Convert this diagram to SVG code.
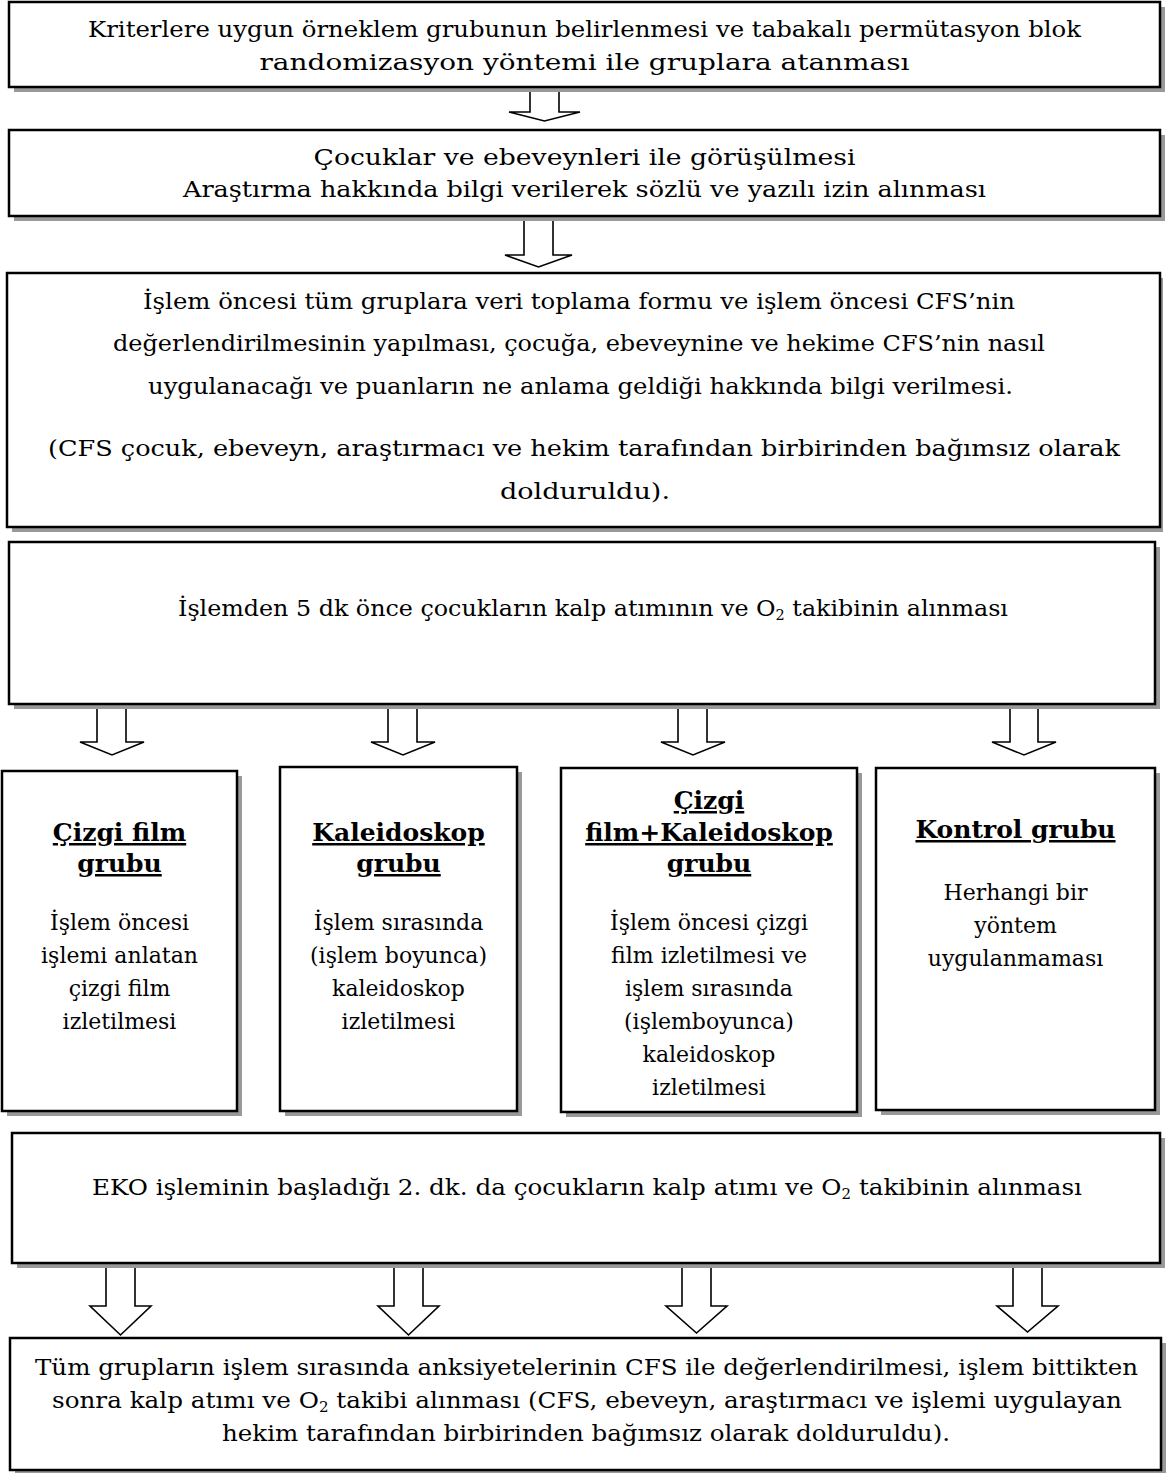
<svg xmlns="http://www.w3.org/2000/svg" width="1166" height="1473" viewBox="0 0 1166 1473">
<style>
.sh{fill:#999999;stroke:none}
.bx{fill:#ffffff;stroke:#000000;stroke-width:2.5}
.ar{fill:#ffffff;stroke:#000000;stroke-width:1.6;stroke-linejoin:miter}
text{font-family:"DejaVu Serif","Liberation Serif",serif;font-size:23px;fill:#000000;text-anchor:middle}
.c{font-size:22px}
.b{font-size:25px;font-weight:bold;text-decoration:underline}
.sub{font-size:14px}
</style>
<rect width="1166" height="1473" fill="#ffffff"/>
<g id="connectors">
<path class="ar" d="M530,89 V112 H509 L544.5,121 L580,112 H559 V89 Z"/>
<path class="ar" d="M524,219 V255 H505 L538.5,267 L572,255 H553 V219 Z"/>
<path class="ar" d="M97,707 V742 H80 L112,755 L144,742 H126 V707 Z"/>
<path class="ar" d="M388,707 V742 H371 L403,755 L435,742 H417 V707 Z"/>
<path class="ar" d="M678,707 V742 H661 L693,755 L725,742 H707 V707 Z"/>
<path class="ar" d="M1010,707 V742 H992 L1024,755 L1056,742 H1038 V707 Z"/>
<path class="ar" d="M106,1265 V1306 H90 L120.5,1335 L151,1306 H135 V1265 Z"/>
<path class="ar" d="M394,1265 V1306 H378 L408.5,1335 L439,1306 H423 V1265 Z"/>
<path class="ar" d="M682,1265 V1306 H666 L696.5,1333 L727,1306 H711 V1265 Z"/>
<path class="ar" d="M1013,1265 V1306 H997 L1027.5,1332 L1058,1306 H1042 V1265 Z"/>
</g>
<g id="n1">
<rect class="sh" x="14" y="7" width="1151" height="85"/>
<rect class="bx" x="9" y="2" width="1151" height="85"/>
<text x="584.5" y="37" textLength="993" lengthAdjust="spacingAndGlyphs">Kriterlere uygun örneklem grubunun belirlenmesi ve tabakalı permütasyon blok</text>
<text x="584.5" y="70" textLength="650" lengthAdjust="spacingAndGlyphs">randomizasyon yöntemi ile gruplara atanması</text>
</g>
<g id="n2">
<rect class="sh" x="14" y="135" width="1151" height="86"/>
<rect class="bx" x="9" y="130" width="1151" height="86"/>
<text x="584.5" y="165" textLength="542" lengthAdjust="spacingAndGlyphs">Çocuklar ve ebeveynleri ile görüşülmesi</text>
<text x="584.5" y="197" textLength="803" lengthAdjust="spacingAndGlyphs">Araştırma hakkında bilgi verilerek sözlü ve yazılı izin alınması</text>
</g>
<g id="n3">
<rect class="sh" x="12" y="278" width="1151" height="254"/>
<rect class="bx" x="7" y="273" width="1153" height="254"/>
<text x="579" y="309" textLength="872" lengthAdjust="spacingAndGlyphs">İşlem öncesi tüm gruplara veri toplama formu ve işlem öncesi CFS’nin</text>
<text x="579" y="351" textLength="932" lengthAdjust="spacingAndGlyphs">değerlendirilmesinin yapılması, çocuğa, ebeveynine ve hekime CFS’nin nasıl</text>
<text x="580.5" y="394" textLength="865" lengthAdjust="spacingAndGlyphs">uygulanacağı ve puanların ne anlama geldiği hakkında bilgi verilmesi.</text>
<text x="584" y="456" textLength="1072" lengthAdjust="spacingAndGlyphs">(CFS çocuk, ebeveyn, araştırmacı ve hekim tarafından birbirinden bağımsız olarak</text>
<text x="585" y="499" textLength="170" lengthAdjust="spacingAndGlyphs">dolduruldu).</text>
</g>
<g id="n4">
<rect class="sh" x="14" y="547" width="1146" height="162"/>
<rect class="bx" x="9" y="542" width="1146" height="162"/>
<text x="593" y="616" textLength="830" lengthAdjust="spacingAndGlyphs">İşlemden 5 dk önce çocukların kalp atımının ve O<tspan class="sub" dy="4">2</tspan><tspan dy="-4"> takibinin alınması</tspan></text>
</g>
<g id="nA">
<rect class="sh" x="7" y="776" width="235" height="340"/>
<rect class="bx" x="2" y="771" width="235" height="340"/>
<text class="b" x="119.5" y="841">Çizgi film</text>
<text class="b" x="119.5" y="872">grubu</text>
<text class="c" x="119.5" y="930">İşlem öncesi</text>
<text class="c" x="119.5" y="963">işlemi anlatan</text>
<text class="c" x="119.5" y="996">çizgi film</text>
<text class="c" x="119.5" y="1029">izletilmesi</text>
</g>
<g id="nB">
<rect class="sh" x="285" y="772" width="237" height="344"/>
<rect class="bx" x="280" y="767" width="237" height="344"/>
<text class="b" x="398.5" y="841">Kaleidoskop</text>
<text class="b" x="398.5" y="872">grubu</text>
<text class="c" x="398.5" y="930">İşlem sırasında</text>
<text class="c" x="398.5" y="963">(işlem boyunca)</text>
<text class="c" x="398.5" y="996">kaleidoskop</text>
<text class="c" x="398.5" y="1029">izletilmesi</text>
</g>
<g id="nC">
<rect class="sh" x="566" y="773" width="296" height="344"/>
<rect class="bx" x="561" y="768" width="296" height="344"/>
<text class="b" x="709" y="809">Çizgi</text>
<text class="b" x="709" y="841">film+Kaleidoskop</text>
<text class="b" x="709" y="872">grubu</text>
<text class="c" x="709" y="930">İşlem öncesi çizgi</text>
<text class="c" x="709" y="963">film izletilmesi ve</text>
<text class="c" x="709" y="996">işlem sırasında</text>
<text class="c" x="709" y="1029">(işlemboyunca)</text>
<text class="c" x="709" y="1062">kaleidoskop</text>
<text class="c" x="709" y="1095">izletilmesi</text>
</g>
<g id="nD">
<rect class="sh" x="881" y="773" width="279" height="342"/>
<rect class="bx" x="876" y="768" width="279" height="342"/>
<text class="b" x="1015.5" y="838">Kontrol grubu</text>
<text class="c" x="1015.5" y="900">Herhangi bir</text>
<text class="c" x="1015.5" y="933">yöntem</text>
<text class="c" x="1015.5" y="966">uygulanmaması</text>
</g>
<g id="nE">
<rect class="sh" x="17" y="1138" width="1148" height="130"/>
<rect class="bx" x="12" y="1133" width="1148" height="130"/>
<text x="587" y="1195" textLength="990" lengthAdjust="spacingAndGlyphs">EKO işleminin başladığı 2. dk. da çocukların kalp atımı ve O<tspan class="sub" dy="4">2</tspan><tspan dy="-4"> takibinin alınması</tspan></text>
</g>
<g id="nF">
<rect class="sh" x="15" y="1343" width="1151" height="132"/>
<rect class="bx" x="10" y="1338" width="1151" height="132"/>
<text x="586.5" y="1375" textLength="1103" lengthAdjust="spacingAndGlyphs">Tüm grupların işlem sırasında anksiyetelerinin CFS ile değerlendirilmesi, işlem bittikten</text>
<text x="587" y="1408" textLength="1070" lengthAdjust="spacingAndGlyphs">sonra kalp atımı ve O<tspan class="sub" dy="4">2</tspan><tspan dy="-4"> takibi alınması (CFS, ebeveyn, araştırmacı ve işlemi uygulayan</tspan></text>
<text x="586" y="1441" textLength="728" lengthAdjust="spacingAndGlyphs">hekim tarafından birbirinden bağımsız olarak dolduruldu).</text>
</g>
</svg>
